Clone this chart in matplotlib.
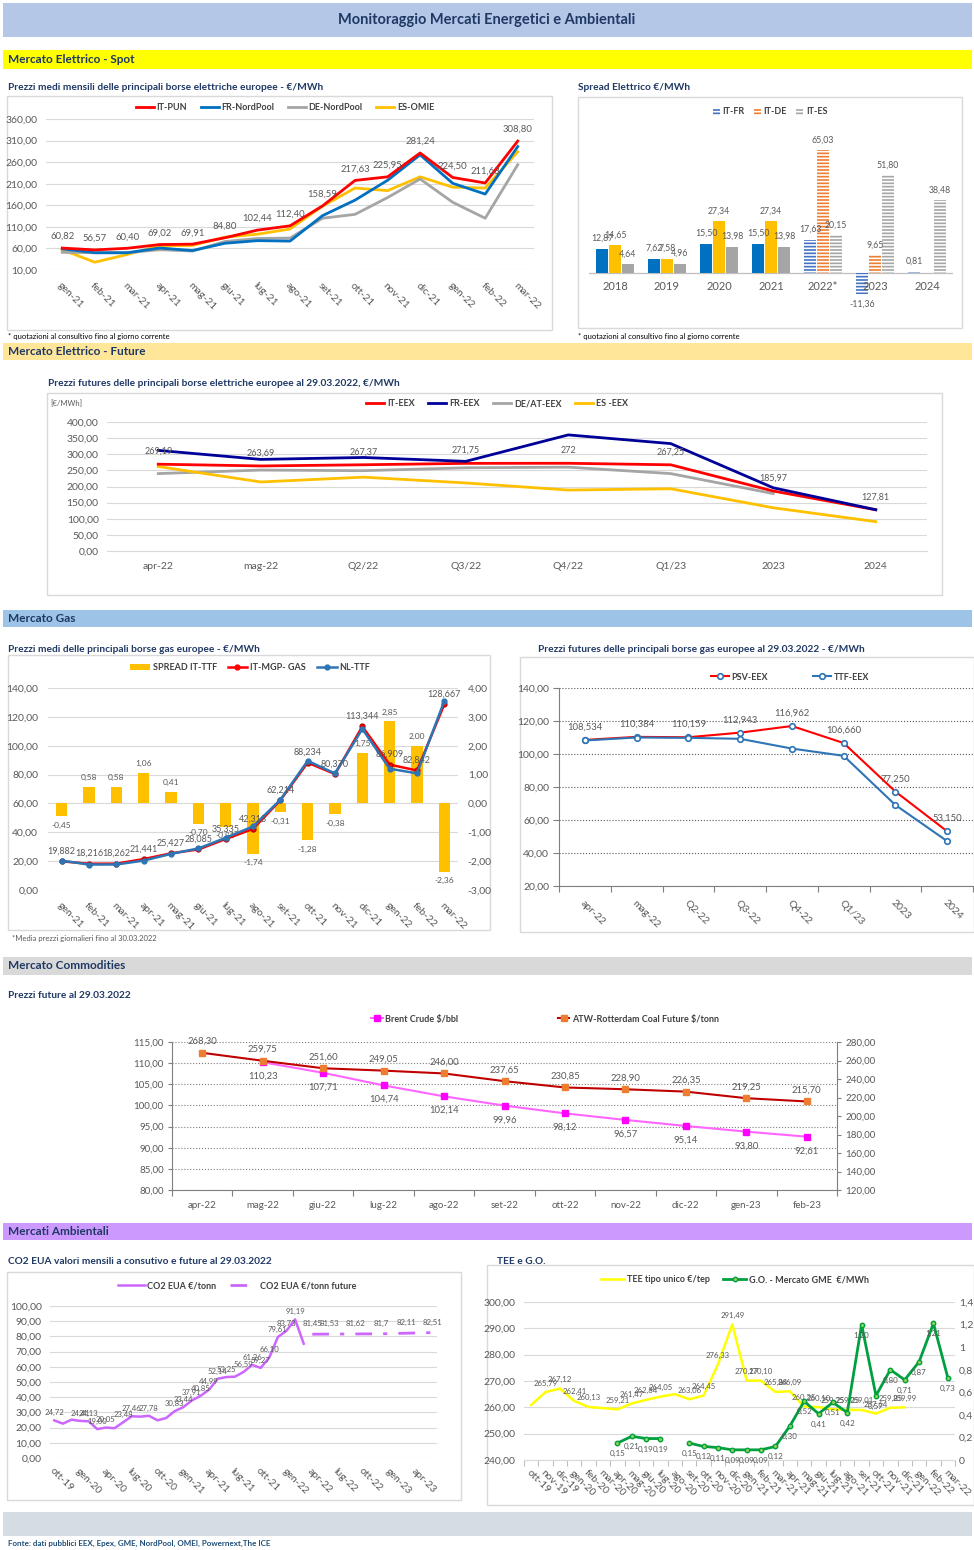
import numpy as np
import matplotlib
matplotlib.use("Agg")
import matplotlib.pyplot as plt
from matplotlib.patches import Rectangle, Patch
from matplotlib.lines import Line2D
from matplotlib.ticker import FuncFormatter

W, H = 974, 1550
plt.rcParams['font.family'] = ['Lato', 'DejaVu Sans']
plt.rcParams['hatch.linewidth'] = 1.2

NAVY = '#1F3864'
LBL = '#595959'
GRID = '#D9D9D9'

# ---------------- data ----------------
# Mercato elettrico - spot
spot_months = ["gen-21", "feb-21", "mar-21", "apr-21", "mag-21", "giu-21", "lug-21", "ago-21",
               "set-21", "ott-21", "nov-21", "dic-21", "gen-22", "feb-22", "mar-22"]
spot_it_pun = [60.82, 56.57, 60.40, 69.02, 69.91, 84.80, 102.44, 112.40, 158.59, 217.63, 225.95,
               281.24, 224.50, 211.68, 308.80]
spot_fr = [59, 50, 50, 61, 55, 72, 78, 77, 136, 172, 218, 277, 211, 186, 296]
spot_de = [51, 50, 50, 57, 54, 76, 83, 84, 130, 139, 178, 221, 167, 130, 254]
spot_es = [57, 28, 46, 66, 67, 86, 93, 105, 158, 200, 194, 226, 202, 200, 284]

# spread elettrico
spread_years = ["2018", "2019", "2020", "2021", "2022*", "2023", "2024"]
spread_it_fr = [12.87, 7.62, 15.50, 15.50, 17.63, -11.36, 0.81]
spread_it_de = [14.65, 7.58, 27.34, 27.34, 65.03, 9.65, np.nan]
spread_it_es = [4.64, 4.96, 13.98, 13.98, 20.15, 51.80, 38.48]
spread_forward = [False, False, False, False, True, True, True]

# mercato elettrico - future
fut_periods = ["apr-22", "mag-22", "Q2/22", "Q3/22", "Q4/22", "Q1/23", "2023", "2024"]
fut_it = [269.19, 263.69, 267.37, 271.75, 272, 267.25, 185.97, 127.81]
fut_fr = [312, 284, 290, 278, 360, 333, 196, 128]
fut_de = [240, 251, 249, 258, 260, 240, 178, np.nan]
fut_es = [262, 214, 229, 211, 189, 193, 134, 91]

# gas spot
gas_months = ["gen-21", "feb-21", "mar-21", "apr-21", "mag-21", "giu-21", "lug-21", "ago-21",
              "set-21", "ott-21", "nov-21", "dic-21", "gen-22", "feb-22", "mar-22"]
gas_it = [19.882, 18.216, 18.262, 21.441, 25.427, 28.085, 35.335, 42.313, 62.214, 88.234, 80.370,
          113.344, 86.909, 82.842, 128.667]
gas_ttf = [20.33, 17.64, 17.68, 20.38, 25.02, 28.79, 36.15, 44.05, 62.52, 89.51, 80.75, 111.59,
           84.06, 80.84, 131.03]
gas_spread = [-0.45, 0.58, 0.58, 1.06, 0.41, -0.70, -0.81, -1.74, -0.31, -1.28, -0.38, 1.75, 2.85,
              2.00, -2.36]

# gas futures
gasf_periods = ["apr-22", "mag-22", "Q2-22", "Q3-22", "Q4-22", "Q1/23", "2023", "2024"]
gasf_psv = [108.534, 110.384, 110.159, 112.943, 116.962, 106.660, 77.250, 53.150]
gasf_ttf = [108.2, 110.0, 109.8, 109.2, 103.3, 98.9, 69.1, 47.2]

# commodities
comm_months = ["apr-22", "mag-22", "giu-22", "lug-22", "ago-22", "set-22", "ott-22", "nov-22",
               "dic-22", "gen-23", "feb-23"]
brent = [np.nan, 110.23, 107.71, 104.74, 102.14, 99.96, 98.12, 96.57, 95.14, 93.80, 92.61]
coal = [268.30, 259.75, 251.60, 249.05, 246.00, 237.65, 230.85, 228.90, 226.35, 219.25, 215.70]

# CO2 EUA
co2_months = ["ott-19", "nov-19", "dic-19", "gen-20", "feb-20", "mar-20", "apr-20", "mag-20",
              "giu-20", "lug-20", "ago-20", "set-20", "ott-20", "nov-20", "dic-20", "gen-21",
              "feb-21", "mar-21", "apr-21", "mag-21", "giu-21", "lug-21", "ago-21", "set-21",
              "ott-21", "nov-21", "dic-21", "gen-22", "feb-22", "mar-22", "apr-22", "mag-22",
              "giu-22", "lug-22", "ago-22", "set-22", "ott-22", "nov-22", "dic-22", "gen-23",
              "feb-23", "mar-23", "apr-23", "mag-23", "giu-23"]
co2_hist = [24.72, 22.6, 25.2, 24.41, 24.13, 19.0, 20.05, 19.6, 23.48, 27.46, 27.2, 27.78, 24.8,
            26.3, 30.83, 33.44, 37.91, 40.85, 44.99, 52.14, 53.25, 53.5, 56.59, 61.26, 59.27,
            66.10, 79.61, 83.73, 91.19, 75.2]
co2_hist_nolabel = [1, 2, 7, 10, 12, 13, 21, 29]
co2_fut_months = ["apr-22", "giu-22", "set-22", "dic-22", "mar-23", "giu-23"]
co2_fut = [81.45, 81.53, 81.62, 81.70, 82.11, 82.51]

# TEE e G.O.
tee_months = co2_months[:30]
tee = [260.9, 265.79, 267.12, 262.41, 260.13, 259.7, 259.21, 261.47, 262.84, 264.05, 265.0,
       263.06, 264.45, 276.33, 291.49, 270.17, 270.10, 265.84, 266.09, 260.25, 260.10, 259.25,
       259.05, 259.01, 257.64, 259.85, 259.99, np.nan, np.nan, np.nan]
tee_nolabel = [0, 5, 10]
go = [np.nan] * 6 + [0.15, 0.21, 0.19, 0.19, np.nan, 0.15, 0.12, 0.11, 0.09, 0.09, 0.09, 0.12,
                     0.30, 0.52, 0.41, 0.51, 0.42, 1.20, 0.57, 0.80, 0.71, 0.87, 1.21, 0.73]


# ---------------- helpers ----------------
def it2(v):
    return f"{v:.2f}".replace('.', ',')


def it3(v):
    return f"{v:.3f}".replace('.', ',')


def itg(v):
    v = round(v, 4)
    if v == int(v):
        return str(int(v))
    return f"{v:g}".replace('.', ',')


fig = plt.figure(figsize=(W / 100, H / 100), dpi=100)
fig.patch.set_facecolor('white')


def px_axes(x0, y0, x1, y1):
    return fig.add_axes([x0 / W, 1 - y1 / H, (x1 - x0) / W, (y1 - y0) / H])


def fig_rect(x0, y0, x1, y1, face='none', edge='none', lw=0.8):
    fig.add_artist(Rectangle((x0 / W, 1 - y1 / H), (x1 - x0) / W, (y1 - y0) / H,
                             transform=fig.transFigure, facecolor=face, edgecolor=edge,
                             lw=lw, zorder=0))


def fig_text(x, y, s, **kw):
    kw.setdefault('va', 'center')
    fig.text(x / W, 1 - y / H, s, **kw)


def fig_legend(handles, labels, x, y, ncol, spacing=1.5, hl=2.0, **kw):
    fig.legend(handles, labels, loc='center', bbox_to_anchor=(x / W, 1 - y / H), ncol=ncol,
               frameon=False, columnspacing=spacing, handlelength=hl, handletextpad=0.3,
               prop={'weight': 'bold', 'size': 6.5}, labelcolor='#404040', **kw)


def excel_axes(ax, lo, hi, step, fmt=it2, grid_ls='-', grid_col=GRID, spines=()):
    ax.set_ylim(lo, hi)
    ax.set_yticks(np.arange(lo, hi + step / 2, step))
    ax.yaxis.set_major_formatter(FuncFormatter(lambda v, p: fmt(v)))
    for name, s in ax.spines.items():
        s.set_visible(name in spines)
        s.set_color('#7F7F7F')
        s.set_linewidth(0.8)
    ax.grid(axis='y', color=grid_col, lw=0.8, ls=grid_ls)
    ax.set_axisbelow(True)
    ax.tick_params(axis='both', length=0, labelsize=7.5, labelcolor=LBL, pad=6)
    ax.patch.set_alpha(0)


def rot_xticks(ax, labels, pad=5, every=1):
    ax.set_xticks(np.arange(0, len(labels), every))
    ax.set_xticklabels(labels[::every], rotation=-45, ha='left', va='top',
                       rotation_mode='anchor', fontsize=7.5, color=LBL)
    ax.tick_params(axis='x', pad=pad)


def boundary_ticks(ax, n, col='#7F7F7F'):
    ax.set_xticks(np.arange(-0.5, n, 1.0), minor=True)
    ax.tick_params(axis='x', which='minor', length=4, color=col, width=0.8)


def put_labels(ax, xs, ys, texts, dy=5, size=6.5, color=LBL, dx=0):
    for x, y, t in zip(xs, ys, texts):
        if t is None or y is None or np.isnan(y):
            continue
        ax.annotate(t, (x, y), xytext=(dx, dy), textcoords='offset points', ha='center',
                    va='bottom' if dy >= 0 else 'top', fontsize=size, color=color, zorder=10)


# ---------------- page layout ----------------
fig_rect(3, 3, 972, 37, face='#B4C7E7')
fig_text(487, 20, "Monitoraggio Mercati Energetici e Ambientali", ha='center', fontsize=10.5,
         weight='bold', color=NAVY)

bands = [(50, 69, '#FFFF00', "Mercato Elettrico - Spot"),
         (343, 360, '#FFE699', "Mercato Elettrico - Future"),
         (610, 627, '#9DC3E6', "Mercato Gas"),
         (957, 975, '#D9D9D9', "Mercato Commodities"),
         (1223, 1240, '#CC99FF', "Mercati Ambientali")]
for y0, y1, col, txt in bands:
    fig_rect(3, y0, 972, y1, face=col)
    fig_text(8, (y0 + y1) / 2, txt, fontsize=8.5, weight='bold', color=NAVY)

fig_rect(3, 1512, 972, 1536, face='#D6DCE4')
fig_text(8, 1543, "Fonte: dati pubblici EEX, Epex, GME, NordPool, OMEI, Powernext,The ICE",
         fontsize=5.8, weight='bold', color='#1F4E79')

# chart frames
for box in [(7, 96, 552, 330), (578, 97, 962, 328), (47, 393, 942, 595), (8, 655, 490, 930),
            (520, 657, 974, 932), (7, 1272, 461, 1500), (487, 1265, 974, 1505)]:
    fig_rect(*box, edge=GRID, lw=1.0)

title_kw = dict(fontsize=7.3, weight='bold', color=NAVY)
fig_text(8, 88, "Prezzi medi mensili delle principali borse elettriche europee - €/MWh", **title_kw)
fig_text(578, 88, "Spread Elettrico €/MWh", **title_kw)
fig_text(48, 384, "Prezzi futures delle principali borse elettriche europee al 29.03.2022, €/MWh",
         **title_kw)
fig_text(8, 649, "Prezzi medi delle principali borse gas europee - €/MWh", **title_kw)
fig_text(538, 649, "Prezzi futures delle principali borse gas europee al 29.03.2022 - €/MWh",
         **title_kw)
fig_text(8, 995, "Prezzi future al 29.03.2022", **title_kw)
fig_text(8, 1261, "CO2 EUA valori mensili a consutivo e future al 29.03.2022", **title_kw)
fig_text(497, 1261, "TEE e G.O.", **title_kw)

note_kw = dict(fontsize=5.5, color='black')
fig_text(8, 337, "* quotazioni al consultivo fino al giorno corrente", **note_kw)
fig_text(578, 337, "* quotazioni al consultivo fino al giorno corrente", **note_kw)
fig_text(12, 939, "*Media prezzi giornalieri fino al 30.03.2022", fontsize=5.5, color=LBL)

# ---------------- 1. spot electricity ----------------
C_RED, C_BLUE, C_GREY, C_YEL = '#FF0000', '#0070C0', '#A5A5A5', '#FFC000'
ax = px_axes(46, 119, 534, 270)
excel_axes(ax, 10, 360, 50)
x = np.arange(len(spot_months))
ax.plot(x, spot_es, color=C_YEL, lw=2, zorder=3)
ax.plot(x, spot_de, color=C_GREY, lw=2, zorder=3)
ax.plot(x, spot_fr, color=C_BLUE, lw=2, zorder=3)
ax.plot(x, spot_it_pun, color=C_RED, lw=2, zorder=4)
ax.set_xlim(-0.5, len(x) - 0.5)
rot_xticks(ax, spot_months, pad=8)
put_labels(ax, x, spot_it_pun, [it2(v) for v in spot_it_pun], dy=5, size=6.8)
fig_legend([Line2D([], [], color=c, lw=2) for c in (C_RED, C_BLUE, C_GREY, C_YEL)],
           ["IT-PUN", "FR-NordPool", "DE-NordPool", "ES-OMIE"], 285, 108, 4)

# ---------------- 2. spread ----------------
ax = px_axes(589, 130, 953, 300)
ax.set_xlim(-0.5, len(spread_years) - 0.5)
ax.set_ylim(-14.3, 75.7)
ax.axis('off')
ax.axhline(0, color='#BFBFBF', lw=0.9, zorder=1)
solid_cols = ['#0070C0', '#FFC000', '#A5A5A5']
fwd_cols = ['#4472C4', '#ED7D31', '#A5A5A5']
series = [spread_it_fr, spread_it_de, spread_it_es]
bw, off = 0.22, 0.25
for k, vals in enumerate(series):
    for j, v in enumerate(vals):
        if np.isnan(v):
            continue
        xpos = j + (k - 1) * off
        if spread_forward[j]:
            ax.bar(xpos, v, bw, color=fwd_cols[k], edgecolor='white', hatch='-----', lw=0, zorder=2)
        else:
            ax.bar(xpos, v, bw, color=solid_cols[k], lw=0, zorder=2)
        put_labels(ax, [xpos], [v], [it2(v)], dy=4 if v >= 0 else -4, size=6.3)
for j, yr in enumerate(spread_years):
    ax.annotate(yr, (j, 0), xytext=(0, -6), textcoords='offset points', ha='center', va='top',
                fontsize=8, color=LBL)
fig_legend([Patch(facecolor=c, edgecolor='white', hatch='-----', lw=0) for c in fwd_cols],
           ["IT-FR", "IT-DE", "IT-ES"], 770, 112, 3, spacing=1.0, hl=0.8, handleheight=0.8)

# ---------------- 3. electricity futures ----------------
ax = px_axes(107, 422, 927, 551)
excel_axes(ax, 0, 400, 50, spines=('bottom',))
ax.spines['bottom'].set_color(GRID)
x = np.arange(len(fut_periods))
ax.plot(x, fut_de, color=C_GREY, lw=2, zorder=3)
ax.plot(x, fut_es, color=C_YEL, lw=2, zorder=3)
ax.plot(x, fut_it, color=C_RED, lw=2, zorder=4)
ax.plot(x, fut_fr, color='#000099', lw=2, zorder=5)
ax.set_xlim(-0.5, len(x) - 0.5)
ax.set_xticks(x, fut_periods, fontsize=7.5, color=LBL)
ax.tick_params(axis='x', pad=8)
put_labels(ax, x, fut_it, [itg(v) for v in fut_it], dy=6, size=6.5)
fig_text(50, 404, "[€/MWh]", fontsize=5.5, color=LBL)
fig_legend([Line2D([], [], color=c, lw=2) for c in (C_RED, '#000099', C_GREY, C_YEL)],
           ["IT-EEX", "FR-EEX", "DE/AT-EEX", "ES -EEX"], 497, 404, 4)

# ---------------- 4. gas spot ----------------
axb = px_axes(48, 688, 458, 890)
excel_axes(axb, -3, 4, 1)
x = np.arange(len(gas_months))
axb.bar(x, gas_spread, 0.42, color='#FFC000', zorder=2)
for xi, v in zip(x, gas_spread):
    put_labels(axb, [xi], [v], [it2(v)], dy=4 if v >= 0 else -4, size=6.0)
axb.set_xlim(-0.5, len(x) - 0.5)
rot_xticks(axb, gas_months, pad=8)
axl = axb.twinx()
excel_axes(axl, 0, 140, 20)
axl.grid(False)
# twinx moves the ticks of the host to the left; swap them back
axb.yaxis.tick_right()
axl.yaxis.tick_left()
axb.tick_params(axis='y', length=0, labelsize=7.5, labelcolor=LBL, pad=7)
axl.tick_params(axis='y', length=0, labelsize=7.5, labelcolor=LBL, pad=7)
axl.plot(x, gas_it, color='#FF0000', lw=1.8, marker='o', ms=3.5, mfc='#FF0000', mec='#C00000',
         zorder=3)
axl.plot(x, gas_ttf, color='#2E75B6', lw=1.8, marker='o', ms=3.5, mfc='#2E75B6', zorder=4)
put_labels(axl, x, gas_it, [it3(v) for v in gas_it], dy=4, size=6.5)
fig_legend([Patch(facecolor='#FFC000'),
            Line2D([], [], color='#FF0000', lw=1.8, marker='o', ms=3.5),
            Line2D([], [], color='#2E75B6', lw=1.8, marker='o', ms=3.5)],
           ["SPREAD IT-TTF", "IT-MGP- GAS", "NL-TTF"], 250, 668, 3, spacing=1.2, hl=2.2,
           handleheight=0.7)

# ---------------- 5. gas futures ----------------
ax = px_axes(559, 688, 973, 886)
excel_axes(ax, 20, 140, 20, grid_ls=':', grid_col='#595959', spines=('left', 'bottom'))
ax.tick_params(axis='y', length=4, direction='out', color='#7F7F7F', pad=3)
x = np.arange(len(gasf_periods))
mk = dict(marker='o', ms=4, mfc='white', mec='#2E75B6', mew=1.2)
ax.plot(x, gasf_psv, color='#FF0000', lw=1.5, zorder=3, **mk)
ax.plot(x, gasf_ttf, color='#2E75B6', lw=1.5, zorder=4, **mk)
ax.set_xlim(-0.5, len(x) - 0.5)
rot_xticks(ax, gasf_periods, pad=9)
boundary_ticks(ax, len(x))
put_labels(ax, x, gasf_psv, [it3(v) for v in gasf_psv], dy=6, size=6.8)
fig_legend([Line2D([], [], color='#FF0000', lw=1.5, **mk),
            Line2D([], [], color='#2E75B6', lw=1.5, **mk)],
           ["PSV-EEX", "TTF-EEX"], 790, 677, 2, spacing=5.0)

# ---------------- 6. commodities ----------------
ax = px_axes(172, 1042, 837, 1190)
excel_axes(ax, 80, 115, 5, grid_ls=':', grid_col='#7F7F7F', spines=('left', 'bottom', 'right'))
x = np.arange(len(comm_months))
ax.plot(x, brent, color='#FF66FF', lw=1.5, marker='s', ms=4.5, mfc='#FF00FF', mec='#FF00FF',
        zorder=3)
put_labels(ax, x, brent, [None if np.isnan(v) else it2(v) for v in brent], dy=-7, size=6.8)
ax.set_xlim(-0.5, len(x) - 0.5)
ax.set_xticks(x, comm_months, fontsize=7, color=LBL)
ax.tick_params(axis='x', pad=8)
boundary_ticks(ax, len(x))
axr = ax.twinx()
excel_axes(axr, 120, 280, 20, spines=())
axr.grid(False)
ax.yaxis.tick_left()
axr.yaxis.tick_right()
for a in (ax, axr):
    a.tick_params(axis='y', length=3, direction='out', color='#7F7F7F', pad=3, labelsize=7,
                  labelcolor=LBL)
axr.plot(x, coal, color='#C00000', lw=1.5, marker='s', ms=4.5, mfc='#ED7D31', mec='#ED7D31',
         zorder=3)
put_labels(axr, x, coal, [it2(v) for v in coal], dy=5, size=6.8)
fig_legend([Line2D([], [], color='#FF66FF', lw=1.5, marker='s', ms=4.5, mfc='#FF00FF',
                   mec='#FF00FF'),
            Line2D([], [], color='#C00000', lw=1.5, marker='s', ms=4.5, mfc='#ED7D31',
                   mec='#ED7D31')],
           ["Brent Crude $/bbl", "ATW-Rotterdam Coal Future $/tonn"], 545, 1019, 2, spacing=11,
           hl=1.3)

# ---------------- 7. CO2 ----------------
C_CO2 = '#CC66FF'
ax = px_axes(50, 1306, 437, 1458)
excel_axes(ax, 0, 100, 10)
xh = np.arange(len(co2_hist))
xf = np.array([co2_months.index(m) for m in co2_fut_months])
ax.plot(xh, co2_hist, color=C_CO2, lw=1.8, zorder=3)
ax.plot(xf, co2_fut, color=C_CO2, lw=2, ls=(0, (6, 4, 1.5, 4)), zorder=3)
ax.set_xlim(-0.5, len(co2_months) - 0.5)
rot_xticks(ax, co2_months, pad=6, every=3)
put_labels(ax, xh, co2_hist, [None if i in co2_hist_nolabel else it2(v)
                              for i, v in enumerate(co2_hist)], dy=3, size=5.6)
put_labels(ax, xf, co2_fut, [itg(v) if v == round(v, 1) else it2(v) for v in co2_fut], dy=5,
           size=5.6)
fig_legend([Line2D([], [], color=C_CO2, lw=1.8),
            Line2D([], [], color=C_CO2, lw=2, ls=(0, (6, 4, 1.5, 4)))],
           ["CO2 EUA €/tonn", "CO2 EUA €/tonn future"], 237, 1286, 2, spacing=1.5, hl=3.0)

# ---------------- 8. TEE e G.O. ----------------
ax = px_axes(524, 1302, 955, 1460)
excel_axes(ax, 240, 300, 10, spines=('bottom',))
ax.spines['bottom'].set_color(GRID)
x = np.arange(len(tee_months))
ax.plot(x, tee, color='#FFFF00', lw=1.8, zorder=3)
put_labels(ax, x, tee, [None if i in tee_nolabel else it2(v) for i, v in enumerate(tee)],
           dy=4, size=5.6)
ax.set_xlim(-0.5, len(x) - 0.5)
rot_xticks(ax, tee_months, pad=6)
boundary_ticks(ax, len(x), col='#BFBFBF')
axr = ax.twinx()
excel_axes(axr, 0, 1.4, 0.2, fmt=itg)
axr.grid(False)
ax.yaxis.tick_left()
axr.yaxis.tick_right()
ax.tick_params(axis='y', length=0, labelsize=7.5, labelcolor=LBL, pad=6)
axr.tick_params(axis='y', length=0, labelsize=7.5, labelcolor=LBL, pad=3)
axr.plot(x, go, color='#00A040', lw=2, marker='o', ms=3.2, mfc='#92D050', mec='#00A040',
         zorder=4)
put_labels(axr, x, go, [it2(v) for v in go], dy=-5, size=5.8)
fig_legend([Line2D([], [], color='#FFFF00', lw=1.8),
            Line2D([], [], color='#00A040', lw=2, marker='o', ms=3.2, mfc='#92D050')],
           ["TEE tipo unico €/tep", "G.O. - Mercato GME  €/MWh"], 735, 1280, 2, spacing=1.5,
           hl=2.5)

fig.savefig('out.png', dpi=100)
